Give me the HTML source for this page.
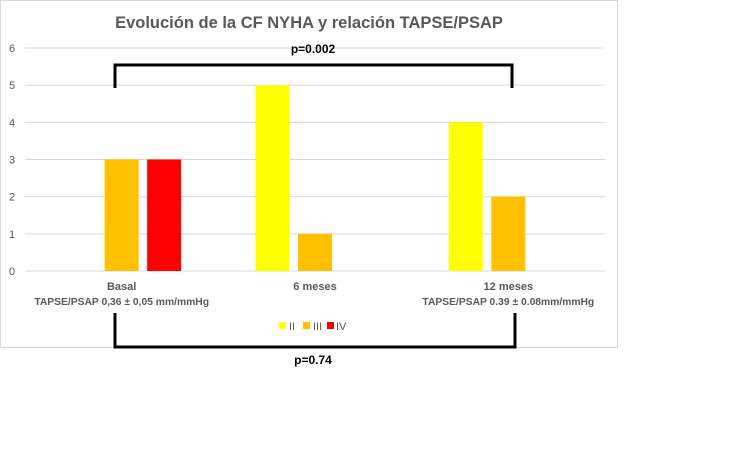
<!DOCTYPE html>
<html><head><meta charset="utf-8"><style>
body{margin:0;background:#fff;width:750px;height:469px;overflow:hidden;font-family:"Liberation Sans",sans-serif}
</style></head><body>
<svg width="750" height="469">
<rect x="0.5" y="0.5" width="617" height="347" fill="#fff" stroke="#d9d9d9"/>
<text x="309" y="28" text-anchor="middle" font-size="16.5" font-weight="bold" fill="#595959">Evolución de la CF NYHA y relación TAPSE/PSAP</text>
<g id="grid"></g><g id="bars"></g><g id="xl"></g>
<g stroke="#000" stroke-width="3" fill="none"><path d="M115,88 V65 H512 V88"/></g>
<text x="313" y="53" text-anchor="middle" font-size="12" font-weight="bold">p=0.002</text>
<g stroke="#000" stroke-width="3" fill="none"><path d="M115,313 V347 H515 V313"/></g>
<text x="313" y="364" text-anchor="middle" font-size="12" font-weight="bold">p=0.74</text>
<g font-size="11" fill="#595959">
<rect x="279" y="322" width="7" height="7" fill="#ffff00"/><text x="289" y="330">II</text>
<rect x="303" y="322" width="7" height="7" fill="#ffc000"/><text x="313" y="330">III</text>
<rect x="327" y="322" width="7" height="7" fill="#ff0000"/><text x="336" y="330">IV</text>
</g>
</svg>
<script>
const categories=["Basal","6 meses","12 meses"];
const subLabels=["TAPSE/PSAP 0,36 ± 0,05 mm/mmHg","","TAPSE/PSAP  0.39 ± 0.08mm/mmHg"];
const seriesNames=["II","III","IV"];
const seriesII=[0,5,4];
const seriesIII=[3,1,2];
const seriesIV=[3,0,0];
const yTicks=[0,1,2,3,4,5,6];
const colors=["#ffff00","#ffc000","#ff0000"];
const NS="http://www.w3.org/2000/svg";
const x0=25,x1=605,yBase=271,yTop=48;
const yS=v=>yBase-(v/6)*(yBase-yTop);
const gw=(x1-x0)/categories.length;
const xC=i=>x0+gw*(i+0.5);
function mk(t,a,p){const e=document.createElementNS(NS,t);for(const k in a)e.setAttribute(k,a[k]);p.appendChild(e);return e;}
const grid=document.getElementById('grid');
yTicks.forEach(v=>{
 const l=mk('line',{x1:x0,x2:x1,y1:yS(v),y2:yS(v),stroke:'#d9d9d9','stroke-width':1},grid);
 
 
 const t=mk('text',{x:12,y:yS(v)+4,'text-anchor':'middle','font-size':11,fill:'#595959'},grid);
 t.textContent=v;
 
 
});
const bars=document.getElementById('bars');
[seriesII,seriesIII,seriesIV].forEach((s,si)=>{
 s.forEach((v,ci)=>{
  if(!v)return;
  const cx=xC(ci)+(si-1)*42.5;
  const r=mk('rect',{x:cx-17,y:yS(v),width:34,height:yBase-yS(v),fill:colors[si]},bars);
  
  
 });
});
const xl=document.getElementById('xl');
categories.forEach((c,i)=>{
 const t=mk('text',{x:xC(i),y:290,'text-anchor':'middle','font-size':11,'font-weight':'bold',fill:'#595959'},xl);
 t.textContent=c;
 
 
 if(subLabels[i]){
  const s=mk('text',{x:xC(i),y:305,'text-anchor':'middle','font-size':10.3,'font-weight':'bold',fill:'#595959'},xl);
  s.textContent=subLabels[i];
  
  
 }
});
</script>
</body></html>
